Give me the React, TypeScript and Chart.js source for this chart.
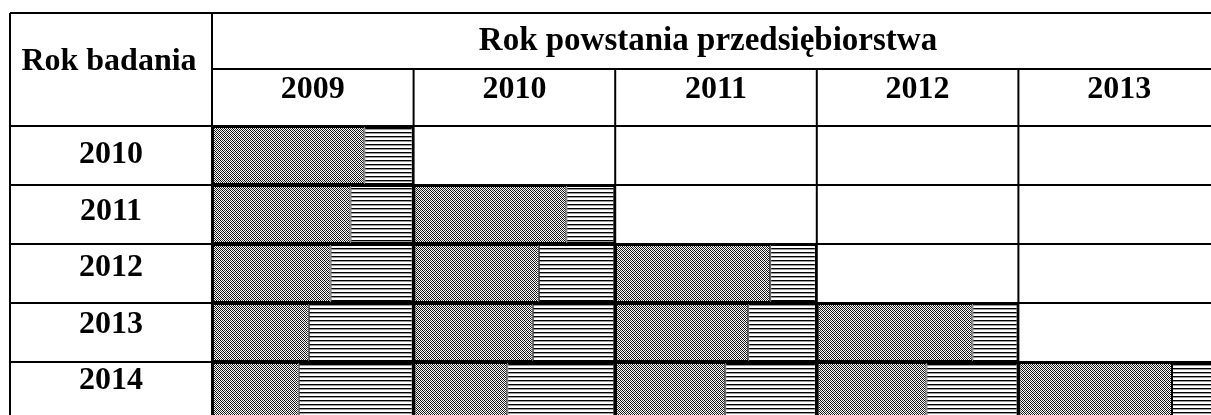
import React, { useEffect, useRef } from 'react';
import { Chart, registerables } from 'chart.js';

Chart.register(...registerables);

// Survey years (rows) and founding years (columns)
const surveyYears = ['2010', '2011', '2012', '2013', '2014'];
const foundingYears = ['2009', '2010', '2011', '2012', '2013'];

// Share of each founding-year cohort (in % of the cell width), per survey year
const survived2009 = [75.6, 68.7, 58.8, 48.0, 43.0];
const closed2009 = [24.4, 31.3, 41.2, 52.0, 57.0];
const survived2010 = [null, 75.8, 62.1, 59.1, 46.5];
const closed2010 = [null, 24.2, 37.9, 40.9, 53.5];
const survived2011 = [null, null, 76.9, 66.0, 54.6];
const closed2011 = [null, null, 23.1, 34.0, 45.4];
const survived2012 = [null, null, null, 77.2, 54.4];
const closed2012 = [null, null, null, 22.8, 45.6];
const survived2013 = [null, null, null, null, 76.2];
const closed2013 = [null, null, null, null, 23.8];

const rowTitle = 'Rok badania';
const columnTitle = 'Rok powstania przedsiębiorstwa';

function makeDotPattern(ctx: CanvasRenderingContext2D) {
  const c = document.createElement('canvas');
  c.width = 4;
  c.height = 4;
  const g = c.getContext('2d')!;
  g.fillStyle = '#ffffff';
  g.fillRect(0, 0, 4, 4);
  for (let yy = 0; yy < 4; yy++) {
    for (let xx = 0; xx < 4; xx++) {
      if ((xx + yy) % 2 === 0) {
        const k = (((xx - yy) % 4) + 4) % 4;
        g.fillStyle = k === 0 ? '#000000' : '#3a3a3a';
        g.fillRect(xx, yy, 1, 1);
      }
    }
  }
  return ctx.createPattern(c, 'repeat')!;
}

function makeHatchPattern(ctx: CanvasRenderingContext2D) {
  const c = document.createElement('canvas');
  c.width = 4;
  c.height = 4;
  const g = c.getContext('2d')!;
  g.fillStyle = '#ffffff';
  g.fillRect(0, 0, 4, 4);
  g.fillStyle = '#000000';
  g.fillRect(0, 0, 4, 1);
  g.fillStyle = '#9a9a9a';
  g.fillRect(0, 1, 4, 1);
  return ctx.createPattern(c, 'repeat')!;
}

const tablePlugin = {
  id: 'tableGrid',
  afterDatasetsDraw(chart: any) {
    const { ctx, chartArea, scales } = chart;
    const xs = scales.x;
    const ys = scales.y;
    const w = chart.width;
    const h = chart.height;
    const left = 10;
    const top = 13;
    const split = 69;
    ctx.save();
    ctx.strokeStyle = '#000000';
    ctx.lineWidth = 2;
    const line = (x1: number, y1: number, x2: number, y2: number) => {
      ctx.beginPath();
      ctx.moveTo(x1, y1);
      ctx.lineTo(x2, y2);
      ctx.stroke();
    };
    line(left, top, w, top);
    line(left, top, left, h);
    line(chartArea.left, top, chartArea.left, h);
    line(chartArea.left, split, w, split);
    for (let c = 1; c <= foundingYears.length; c++) {
      const px = xs.getPixelForValue(c * 100);
      line(px, split, px, h);
    }
    const half = (ys.getPixelForValue(1) - ys.getPixelForValue(0)) / 2;
    line(left, chartArea.top, w, chartArea.top);
    surveyYears.forEach((_, i) => {
      const py = ys.getPixelForValue(i) + half;
      line(left, py, w, py);
    });

    ctx.fillStyle = '#000000';
    ctx.textAlign = 'center';
    ctx.textBaseline = 'middle';
    const labelX = (left + chartArea.left) / 2;
    ctx.font = 'bold 32px "Liberation Serif"';
    ctx.fillText(rowTitle, labelX - 2, 62);
    ctx.font = 'bold 33px "Liberation Serif"';
    ctx.fillText(columnTitle, 708, 41);
    ctx.font = 'bold 32px "Liberation Serif"';
    foundingYears.forEach((t, c) => {
      ctx.fillText(t, xs.getPixelForValue(c * 100 + 50), 90);
    });
    surveyYears.forEach((t, i) => {
      ctx.fillText(t, labelX, ys.getPixelForValue(i) - 0.5 - i * 2.5);
    });
    ctx.restore();
  },
};

export default function App() {
  const ref = useRef<HTMLCanvasElement>(null);

  useEffect(() => {
    const canvas = ref.current!;
    const ctx = canvas.getContext('2d')!;
    const dots = makeDotPattern(ctx);
    const hatch = makeHatchPattern(ctx);

    const survivedBorder = { left: 2, top: 2, bottom: 2, right: 1 };
    const closedBorder = { left: 1, top: 2, bottom: 2, right: 2 };

    const series: [string, (number | null)[], boolean][] = [
      ['2009 survived', survived2009, true],
      ['2009 closed', closed2009, false],
      ['2010 survived', survived2010, true],
      ['2010 closed', closed2010, false],
      ['2011 survived', survived2011, true],
      ['2011 closed', closed2011, false],
      ['2012 survived', survived2012, true],
      ['2012 closed', closed2012, false],
      ['2013 survived', survived2013, true],
      ['2013 closed', closed2013, false],
    ];

    const chart = new Chart(canvas, {
      type: 'bar',
      data: {
        labels: surveyYears,
        datasets: series.map(([label, data, surv]) => ({
          label,
          data: data as any,
          backgroundColor: surv ? dots : hatch,
          borderColor: '#000000',
          borderWidth: surv ? survivedBorder : closedBorder,
          borderSkipped: false,
          inflateAmount: 0,
          barPercentage: 1,
          categoryPercentage: 1,
        })),
      },
      options: {
        indexAxis: 'y',
        animation: false,
        responsive: false,
        devicePixelRatio: 1,
        layout: { padding: { left: 212, right: 12, top: 126, bottom: 9 } },
        plugins: {
          legend: { display: false },
          tooltip: { enabled: false },
          title: { display: false },
        },
        scales: {
          x: { type: 'linear', min: 0, max: 500, stacked: true, display: false },
          y: { type: 'category', stacked: true, display: false, offset: true },
        },
      } as any,
      plugins: [tablePlugin],
    });
    return () => chart.destroy();
  }, []);

  return (
    <div
      style={{
        position: 'fixed',
        left: 0,
        top: 0,
        width: '100vw',
        height: '100vh',
        overflow: 'hidden',
        background: '#ffffff',
      }}
    >
      <canvas ref={ref} width={1232} height={430} style={{ display: 'block', width: 1232, height: 430 }} />
    </div>
  );
}
